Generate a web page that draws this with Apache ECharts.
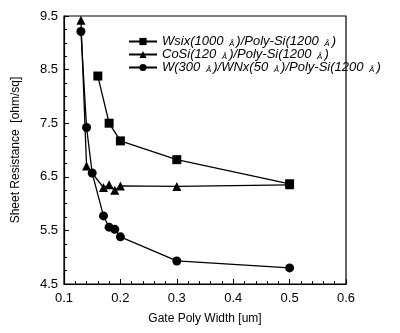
<!DOCTYPE html>
<html>
<head>
<meta charset="utf-8">
<script src="https://cdn.jsdelivr.net/npm/echarts@6/dist/echarts.min.js"></script>
<style>
  html, body { margin: 0; padding: 0; background: #fff; }
  #chart { width: 400px; height: 333px; }
</style>
</head>
<body>
<div id="chart"></div>
<script>
// gate widths (um) and sheet resistance (ohm/sq)
const wsixX = [0.16, 0.18, 0.2, 0.3, 0.5];
const wsixY = [8.38, 7.5, 7.17, 6.82, 6.37];
const cosiX = [0.13, 0.14, 0.17, 0.18, 0.19, 0.2, 0.3, 0.5];
const cosiY = [9.42, 6.7, 6.3, 6.35, 6.25, 6.33, 6.32, 6.35];
const wwnxX = [0.13, 0.14, 0.15, 0.17, 0.18, 0.19, 0.2, 0.3, 0.5];
const wwnxY = [9.21, 7.42, 6.57, 5.77, 5.56, 5.52, 5.38, 4.93, 4.8];
const seriesNames = [
  'Wsix(1000 {a|Å})/Poly-Si(1200 {a|Å})',
  'CoSi(120 {a|Å})/Poly-Si(1200 {a|Å})',
  'W(300 {a|Å})/WNx(50 {a|Å})/Poly-Si(1200 {a|Å})'
];

function pairs(xs, ys) {
  return xs.map((x, i) => [x, ys[i]]);
}

const chart = echarts.init(document.getElementById('chart'));
const font = 'Arial, "Liberation Sans", sans-serif';

const option = {
  animation: false,
  backgroundColor: '#fff',
  grid: {
    left: 64, right: 54, top: 16, bottom: 49,
    show: true, borderColor: '#000', borderWidth: 1.2
  },
  legend: {
    left: 123, top: 30,
    orient: 'vertical',
    itemGap: 0,
    itemWidth: 28,
    itemHeight: 9,
    data: seriesNames,
    textStyle: {
      fontFamily: font, fontSize: 13, fontStyle: 'italic', color: '#000',
      rich: { a: { fontSize: 8, fontStyle: 'italic', fontFamily: font, color: '#000', padding: [4, 2, 0, 2] } }
    }
  },
  xAxis: {
    type: 'value',
    min: 0.1, max: 0.6, interval: 0.1,
    name: 'Gate Poly Width [um]',
    nameLocation: 'middle', nameGap: 29,
    nameTextStyle: { fontFamily: font, fontSize: 12, color: '#000' },
    axisLine: { show: true, lineStyle: { color: '#000', width: 1.2 } },
    axisTick: { inside: true, length: 5, lineStyle: { color: '#000' } },
    minorTick: { show: true, splitNumber: 5, length: 3, lineStyle: { color: '#000' } },
    splitLine: { show: false },
    axisLabel: { fontFamily: font, fontSize: 13, color: '#000', margin: 8,
      formatter: v => v.toFixed(1) }
  },
  yAxis: {
    type: 'value',
    min: 4.5, max: 9.5, interval: 1,
    name: 'Sheet Resistance  [ohm/sq]',
    nameLocation: 'middle', nameGap: 42,
    nameTextStyle: { fontFamily: font, fontSize: 12, color: '#000' },
    axisLine: { show: true, lineStyle: { color: '#000', width: 1.2 } },
    axisTick: { inside: true, length: 5, lineStyle: { color: '#000' } },
    minorTick: { show: true, splitNumber: 4, length: 3, lineStyle: { color: '#000' } },
    splitLine: { show: false },
    axisLabel: { fontFamily: font, fontSize: 13, color: '#000', margin: 6,
      formatter: v => v.toFixed(1) }
  },
  series: [
    {
      name: seriesNames[0], type: 'line', data: pairs(wsixX, wsixY),
      symbol: 'rect', symbolSize: 9,
      lineStyle: { color: '#000', width: 1.3 }, itemStyle: { color: '#000' }
    },
    {
      name: seriesNames[1], type: 'line', data: pairs(cosiX, cosiY),
      symbol: 'triangle', symbolSize: 9,
      lineStyle: { color: '#000', width: 1.3 }, itemStyle: { color: '#000' }
    },
    {
      name: seriesNames[2], type: 'line', data: pairs(wwnxX, wwnxY),
      symbol: 'circle', symbolSize: 9,
      lineStyle: { color: '#000', width: 1.3 }, itemStyle: { color: '#000' }
    }
  ]
};

chart.setOption(option);
</script>
</body>
</html>
